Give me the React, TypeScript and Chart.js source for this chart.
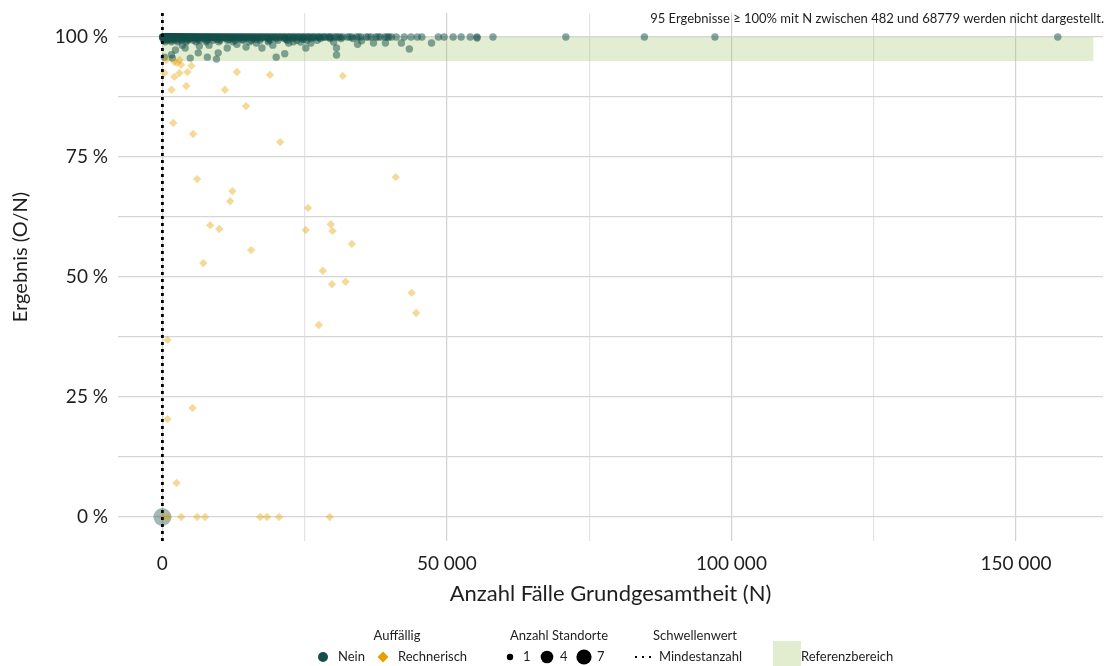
import React, { useEffect, useRef } from 'react';
import { Chart, registerables } from 'chart.js';

Chart.register(...registerables);

// ---------- data ----------
// Cases at exactly 100 % (N values), Auffällig = Nein, 1 site
const greenN100 = [
  30, 80, 120, 150, 200, 260, 310, 370, 420, 480, 540, 600, 660, 720, 790, 850, 910, 980, 1050, 1120,
  1190, 1260, 1330, 1410, 1490, 1570, 1650, 1730, 1820, 1910, 2000, 2100, 2200, 2300, 2410, 2520, 2630,
  2750, 2870, 2990, 3120, 3250, 3380, 3510, 3650, 3790, 3930, 4080, 4230, 4380, 4540, 4700, 4860, 5030,
  5200, 5370, 5550, 5730, 5910, 6100, 6290, 6480, 6680, 6880, 7080, 7290, 7500, 7710, 7930, 8150, 8370,
  8600, 8830, 9060, 9300, 9540, 9780, 10030, 10280, 10540, 10800, 11060, 11330, 11600, 11880, 12160,
  12440, 12730, 13020, 13320, 13620, 13920, 14230, 14540, 14860, 15180, 15500, 15830, 16160, 16500,
  16840, 17180, 17530, 17880, 18240, 18600, 18960, 19330, 19700, 20080, 20460, 20850, 21240, 21640,
  22040, 22450, 22860, 23280, 23700, 24130, 24560, 25000, 25440, 25890, 26340, 26800, 27260, 27730,
  28200, 28680, 29160, 29650, 30200, 30900, 31700, 32500, 33300, 34100, 34900, 35800, 36700, 37500,
  38300, 39100, 39800, 40250, 41100, 42500, 43700, 44800, 45600, 48500, 49500, 51100, 52500, 54100,
  55300, 58100, 70900, 84700, 97100, 157350,
  // second batch (same 100 % level)
  60, 170, 230, 340, 450, 570, 690, 820, 950, 1090, 1230, 1370, 1530, 1690, 1860, 2050, 2250, 2460,
  2690, 2930, 3180, 3440, 3720, 4000, 4310, 4620, 4950, 5290, 5640, 6000, 6380, 6780, 7190, 7610,
  8040, 8480, 8940, 9420, 9910, 10410, 10930, 11470, 12020, 12590, 13170, 13770, 14380, 15020,
  15670, 16330, 17010, 17710, 18420, 19150, 19890, 20650, 21440, 22250, 23070, 23910, 24770, 25660,
  26570, 27500, 28440, 29400, 30550, 31300, 32900, 34500, 36200, 37900, 39500,
];

// Cases below 100 %, Auffällig = Nein, 1 site
const greenLowN = [
  // ~99.7 %
  100, 400, 750, 1100, 1500, 1950, 2450, 3000, 3600, 4250, 4950, 5700, 6500, 7350, 8250, 9200,
  10200, 11250, 12350, 13500, 14700, 15950, 17250, 18600, 20000, 21450, 22950, 24500, 26100, 27750,
  29500, 31400, 33500,
  // ~99.5 %
  600, 1300, 2100, 3200, 4600, 6200, 7900, 9700, 11800, 14000, 16400, 19000, 21800, 24800,
  // ~99.3 %
  250, 900, 1650, 2500, 3400, 4400, 5450, 6550, 7700, 8900, 10150, 11450, 12800, 14200, 15650,
  17150, 18700, 20300, 21950, 23650, 25400, 27200,
  // ~99.0 %
  500, 1600, 2700, 4200, 5900, 7700, 9900, 12400, 15300, 18600, 23000,
  // scattered
  350, 1750, 2300, 1600, 3500, 4000, 4900, 6300, 6500, 7900, 8200, 9500, 9800, 11400, 13100,
  14700, 16500, 17500, 20000, 21500, 19400, 22200, 24300, 25200, 26100, 30100, 30600, 30600, 34300,
  35000, 37100, 39200, 42000, 43400, 47300, 55300,
];
const greenLowPct = [
  99.7, 99.7, 99.7, 99.7, 99.7, 99.7, 99.7, 99.7, 99.7, 99.7, 99.7, 99.7, 99.7, 99.7, 99.7, 99.7,
  99.7, 99.7, 99.7, 99.7, 99.7, 99.7, 99.7, 99.7, 99.7, 99.7, 99.7, 99.7, 99.7, 99.7,
  99.7, 99.7, 99.7,
  99.5, 99.5, 99.5, 99.5, 99.5, 99.5, 99.5, 99.5, 99.5, 99.5, 99.5, 99.5, 99.5, 99.5,
  99.3, 99.3, 99.3, 99.3, 99.3, 99.3, 99.3, 99.3, 99.3, 99.3, 99.3, 99.3, 99.3, 99.3, 99.3,
  99.3, 99.3, 99.3, 99.3, 99.3, 99.3, 99.3,
  99.0, 99.0, 99.0, 99.0, 99.0, 99.0, 99.0, 99.0, 99.0, 99.0, 99.0,
  95.8, 95.6, 97.3, 96.3, 98.3, 97.7, 95.6, 96.7, 98.1, 95.8, 98.3, 95.4, 96.7, 97.7, 98.5,
  97.9, 98.75, 97.7, 95.8, 96.5, 98.3, 98.75, 98.96, 97.7, 98.75, 98.96, 97.7, 96.25, 98.5,
  99.2, 98.75, 98.75, 98.75, 97.5, 98.75, 99.8,
];

// Multi-site case
const bigN = [0];
const bigPct = [0];
const bigSites = [7];

// Auffällig = Rechnerisch
const orangeN = [
  700, 2100, 2600, 3300, 3000, 5100, 350, 2100, 3000, 4400, 13100, 18900, 31700, 1600, 4200, 11000,
  14700, 1900, 5400, 20700, 6100, 41000, 12300, 11900, 25600, 8400, 10000, 25200, 29600, 29900, 33300,
  15600, 7200, 28200, 29800, 32200, 43800, 44600, 27500, 900, 5300, 900, 2500, 200, 1000, 3300, 6100,
  7500, 17200, 18400, 20500, 29400,
];
const orangePct = [
  95.2, 94.8, 94.6, 94.2, 95.2, 94.0, 92.5, 91.7, 92.5, 92.7, 92.7, 92.1, 91.9, 89.0, 89.8, 89.0,
  85.6, 82.1, 79.8, 78.1, 70.4, 70.8, 67.9, 65.8, 64.4, 60.8, 60.0, 59.8, 61.0, 59.6, 56.9,
  55.6, 52.9, 51.3, 48.5, 49.0, 46.7, 42.5, 40.0, 36.9, 22.7, 20.4, 7.1, 0, 0, 0, 0,
  0, 0, 0, 0, 0,
];

const xTickValues = [0, 25000, 50000, 75000, 100000, 125000, 150000];
const xTickLabels = ['0', '', '50 000', '', '100 000', '', '150 000'];
const yTickValues = [0, 12.5, 25, 37.5, 50, 62.5, 75, 87.5, 100];
const yTickLabels = ['0 %', '', '25 %', '', '50 %', '', '75 %', '', '100 %'];

const xTitle = 'Anzahl Fälle Grundgesamtheit (N)';
const yTitle = 'Ergebnis (O/N)';

const refLow = 95;
const refHigh = 100;
const refBandEndN = 163600;
const thresholdN = 0;
const noteText = '95 Ergebnisse \u2265 100% mit N zwischen 482 und 68779 werden nicht dargestellt.';

// ---------- styles ----------
const FONT = 'Lato, "Open Sans", sans-serif';
const GREEN = '#144F4A';
const GREEN_A = 'rgba(20,79,74,0.5)';
const ORANGE = '#E69F00';
const ORANGE_A = 'rgba(230,159,0,0.4)';
const BAND = '#E2EDCF';
const BAND_A = 'rgba(150,190,90,0.28)';
const TEXT = '#1e1e1e';

const siteRadius = (s: number) => 3.7 * Math.sqrt(s);

const overlayPlugin = {
  id: 'overlay',
  beforeDatasetsDraw(chart: any) {
    const { ctx, scales } = chart;
    const x0 = scales.x.getPixelForValue(0);
    const x1 = scales.x.getPixelForValue(refBandEndN);
    const y0 = scales.y.getPixelForValue(refHigh);
    const y1 = scales.y.getPixelForValue(refLow);
    ctx.save();
    ctx.fillStyle = BAND_A;
    ctx.fillRect(x0, y0, x1 - x0, y1 - y0);
    ctx.restore();
  },
  afterDatasetsDraw(chart: any) {
    const { ctx, chartArea, scales } = chart;
    const x = scales.x.getPixelForValue(thresholdN);
    ctx.save();
    ctx.strokeStyle = '#000';
    ctx.lineWidth = 2.8;
    ctx.setLineDash([3, 4]);
    ctx.beginPath();
    ctx.moveTo(x, chartArea.top);
    ctx.lineTo(x, chartArea.bottom);
    ctx.stroke();
    ctx.restore();
  },
  afterDraw(chart: any) {
    const { ctx } = chart;
    ctx.save();
    // y-axis title
    ctx.fillStyle = TEXT;
    ctx.font = `20px ${FONT}`;
    ctx.textAlign = 'center';
    ctx.textBaseline = 'middle';
    ctx.translate(21, 257);
    ctx.rotate(-Math.PI / 2);
    ctx.fillText(yTitle, 0, 0);
    ctx.setTransform(1, 0, 0, 1, 0, 0);
    ctx.restore();

    ctx.save();
    // note
    ctx.fillStyle = TEXT;
    ctx.font = `13px ${FONT}`;
    ctx.textAlign = 'right';
    ctx.textBaseline = 'middle';
    ctx.fillText(noteText, 1104, 19);

    // legend
    const ty = 636;
    const ry = 657;
    ctx.font = `13px ${FONT}`;
    ctx.textAlign = 'center';
    ctx.fillText('Auffällig', 397, ty);
    ctx.fillText('Anzahl Standorte', 559, ty);
    ctx.fillText('Schwellenwert', 695, ty);

    ctx.textAlign = 'left';
    // Nein
    ctx.fillStyle = GREEN;
    ctx.beginPath();
    ctx.arc(323, ry, 5, 0, Math.PI * 2);
    ctx.fill();
    ctx.fillStyle = TEXT;
    ctx.fillText('Nein', 338, ry);
    // Rechnerisch
    ctx.fillStyle = ORANGE;
    ctx.beginPath();
    ctx.moveTo(383, ry - 5.5);
    ctx.lineTo(388.5, ry);
    ctx.lineTo(383, ry + 5.5);
    ctx.lineTo(377.5, ry);
    ctx.closePath();
    ctx.fill();
    ctx.fillStyle = TEXT;
    ctx.fillText('Rechnerisch', 398, ry);
    // sizes
    const sz = [
      [510, 3.2, '1', 523],
      [547, 6.3, '4', 560],
      [584, 7.6, '7', 597],
    ] as const;
    for (const [cx, r, lab, lx] of sz) {
      ctx.fillStyle = '#000';
      ctx.beginPath();
      ctx.arc(cx, ry, r, 0, Math.PI * 2);
      ctx.fill();
      ctx.fillStyle = TEXT;
      ctx.fillText(lab, lx, ry);
    }
    // threshold
    ctx.fillStyle = '#000';
    for (const dx of [636, 643, 650]) {
      ctx.fillRect(dx - 1, ry - 1, 2, 2);
    }
    ctx.fillStyle = TEXT;
    ctx.fillText('Mindestanzahl', 659, ry);
    // reference band
    ctx.fillStyle = BAND;
    ctx.fillRect(773, 641, 28, 25);
    ctx.fillStyle = TEXT;
    ctx.fillText('Referenzbereich', 801, ry);
    ctx.restore();
  },
};

export default function App() {
  const ref = useRef<HTMLCanvasElement | null>(null);

  useEffect(() => {
    if (!ref.current) return;
    const greenPts = [
      ...greenN100.map((n) => ({ x: n, y: 100 })),
      ...greenLowN.map((n, i) => ({ x: n, y: greenLowPct[i] })),
    ];
    const bigPts = bigN.map((n, i) => ({ x: n, y: bigPct[i] }));
    const orangePts = orangeN.map((n, i) => ({ x: n, y: orangePct[i] }));

    const chart = new Chart(ref.current, {
      type: 'scatter',
      data: {
        datasets: [
          {
            label: 'Rechnerisch',
            data: orangePts,
            pointStyle: 'rectRot',
            pointRadius: 4.2,
            backgroundColor: ORANGE_A,
            borderWidth: 0,
            order: 0,
          },
          {
            label: 'Nein',
            data: greenPts,
            pointStyle: 'circle',
            pointRadius: siteRadius(1),
            backgroundColor: GREEN_A,
            borderWidth: 0,
            order: 1,
          },
          {
            label: 'Nein (mehrere Standorte)',
            data: bigPts,
            pointStyle: 'circle',
            pointRadius: bigSites.map((s) => 3.4 * Math.sqrt(s)),
            backgroundColor: 'rgba(20,79,74,0.4)',
            borderWidth: 0,
            order: 2,
          },
        ],
      },
      options: {
        animation: false,
        responsive: true,
        maintainAspectRatio: false,
        layout: { padding: { top: 13, right: 4.5, left: 0, bottom: 0 } },
        plugins: {
          legend: { display: false },
          tooltip: { enabled: false },
        },
        scales: {
          x: {
            type: 'linear',
            min: -7800,
            max: 165300,
            afterBuildTicks: (s: any) => {
              s.ticks = xTickValues.map((v) => ({ value: v }));
            },
            afterFit: (s: any) => {
              s.height = 125;
              s.paddingLeft = 0;
              s.paddingRight = 0;
            },
            ticks: {
              autoSkip: false,
              maxRotation: 0,
              padding: 11,
              color: TEXT,
              font: { family: FONT, size: 19 },
              callback: (v: any) => {
                const i = xTickValues.indexOf(Number(v));
                return i >= 0 ? xTickLabels[i] : '';
              },
            },
            grid: {
              drawTicks: false,
              lineWidth: 1.2,
              color: (c: any) => {
                const v = c.tick ? c.tick.value : 0;
                return v % 50000 === 0 ? '#d2d2d2' : '#e4e4e4';
              },
            },
            border: { display: false },
            title: {
              display: true,
              text: xTitle,
              color: TEXT,
              font: { family: FONT, size: 22 },
              padding: { top: 0, bottom: 59 },
            },
          },
          y: {
            type: 'linear',
            min: -5,
            max: 105,
            afterBuildTicks: (s: any) => {
              s.ticks = yTickValues.map((v) => ({ value: v }));
            },
            afterFit: (s: any) => {
              s.width = 118;
              s.paddingTop = 0;
              s.paddingBottom = 0;
            },
            ticks: {
              autoSkip: false,
              padding: 10,
              color: TEXT,
              font: { family: FONT, size: 19 },
              callback: (v: any) => {
                const i = yTickValues.indexOf(Number(v));
                return i >= 0 ? yTickLabels[i] : '';
              },
            },
            grid: {
              drawTicks: false,
              lineWidth: 1.2,
              color: '#d6d6d6',
            },
            border: { display: false },
            title: { display: false, text: yTitle },
          },
        },
      },
      plugins: [overlayPlugin],
    });
    return () => chart.destroy();
  }, []);

  return (
    <div style={{ position: 'fixed', left: 0, top: 0, width: 1112, height: 666, background: '#fff' }}>
      <canvas ref={ref} />
    </div>
  );
}
